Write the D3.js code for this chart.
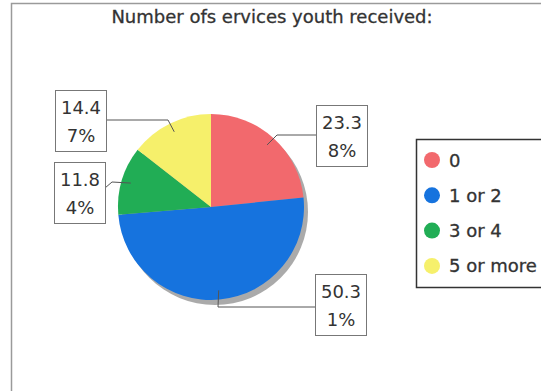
<!DOCTYPE html>
<html>
<head>
<meta charset="utf-8">
<script src="https://cdn.jsdelivr.net/npm/d3@7/dist/d3.min.js"></script>
<style>
  body { margin: 0; background: #fff; }
  svg { display: block; font-family: "DejaVu Sans", sans-serif; }
</style>
</head>
<body>
<svg id="chart" width="541" height="391"></svg>
<script>
// ==========
// CHART DATA
// ==========
var title = "Number ofs ervices youth received:";
var categories = ["0", "1 or 2", "3 or 4", "5 or more"];
var percents = [23.38, 50.31, 11.84, 14.47];
var colors = ["#f2696d", "#1673de", "#21ad55", "#f6f06b"];

// label boxes: top-left corner and where the leader bends
var boxLayout = [
    { x: 316, y: 105, side: "left", elbow: [277, 135], join: 135 },
    { x: 315, y: 274, side: "left", elbow: [218, 307], join: 307 },
    { x: 54, y: 162, side: "right", elbow: [112, 182], join: 188 },
    { x: 55, y: 90, side: "right", elbow: [168, 120], join: 120 }
];
var boxW = 51, boxH = 61;

// ########
// # MAIN #
// ########
var svg = d3.select("#chart");
var cx = 211, cy = 207, r = 93;

// outer frame
svg.append("rect")
    .attr("x", 11.5).attr("y", 3.5)
    .attr("width", 545).attr("height", 400)
    .attr("fill", "#fff")
    .attr("stroke", "#9a9a9a")
    .attr("stroke-width", 1.5);

svg.append("text")
    .attr("x", 272).attr("y", 23)
    .attr("text-anchor", "middle")
    .attr("font-size", "18px")
    .attr("fill", "#333")
    .attr("stroke", "#333").attr("stroke-width", 0.3)
    .text(title);

var pie = d3.pie().sort(null).value(function (d) { return d; });
var arcs = pie(percents);
var arc = d3.arc().innerRadius(0).outerRadius(r);
var anchorArc = d3.arc().innerRadius(r * 0.9).outerRadius(r * 0.9);

var g = svg.append("g").attr("transform", "translate(" + cx + "," + cy + ")");

// shadow under the pie
g.append("circle")
    .attr("cx", 4).attr("cy", 5).attr("r", r)
    .attr("fill", "#aaa");

g.selectAll("path.slice")
    .data(arcs)
    .enter().append("path")
    .attr("class", "slice")
    .attr("d", arc)
    .attr("fill", function (d, i) { return colors[i]; });

// leader lines and label boxes
arcs.forEach(function (d, i) {
    var a = anchorArc.centroid(d);
    var L = boxLayout[i];
    var ax = cx + a[0], ay = cy + a[1];
    var bx = L.side === "left" ? L.x : L.x + boxW;
    svg.append("polyline")
        .attr("points", [[ax, ay], L.elbow, [bx, L.join]].map(function (p) { return p.join(","); }).join(" "))
        .attr("fill", "none")
        .attr("stroke", "#555")
        .attr("stroke-width", 1);

    svg.append("rect")
        .attr("x", L.x + 0.5).attr("y", L.y + 0.5)
        .attr("width", boxW).attr("height", boxH)
        .attr("fill", "#fff")
        .attr("stroke", "#777")
        .attr("stroke-width", 1);

    var s = percents[i].toFixed(2) + "%";
    svg.append("text")
        .attr("x", L.x + boxW / 2 + 0.5).attr("y", L.y + 24)
        .attr("text-anchor", "middle")
        .attr("font-size", "18px")
        .attr("fill", "#333")
        .text(s.slice(0, 4));
    svg.append("text")
        .attr("x", L.x + boxW / 2 + 0.5).attr("y", L.y + 52)
        .attr("text-anchor", "middle")
        .attr("font-size", "18px")
        .attr("fill", "#333")
        .text(s.slice(4));
});

// legend
var legend = svg.append("g");
legend.append("rect")
    .attr("x", 416.5).attr("y", 139.5)
    .attr("width", 140).attr("height", 148)
    .attr("fill", "#fff")
    .attr("stroke", "#333")
    .attr("stroke-width", 1.5);

var items = legend.selectAll("g.item")
    .data(categories)
    .enter().append("g")
    .attr("class", "item")
    .attr("transform", function (d, i) { return "translate(432," + (160 + i * 35.3) + ")"; });

items.append("circle")
    .attr("r", 8)
    .attr("fill", function (d, i) { return colors[i]; });

items.append("text")
    .attr("x", 17).attr("y", 6.5)
    .attr("font-size", "18px")
    .attr("fill", "#333")
    .attr("stroke", "#333").attr("stroke-width", 0.3)
    .text(function (d) { return d; });
</script>
</body>
</html>
